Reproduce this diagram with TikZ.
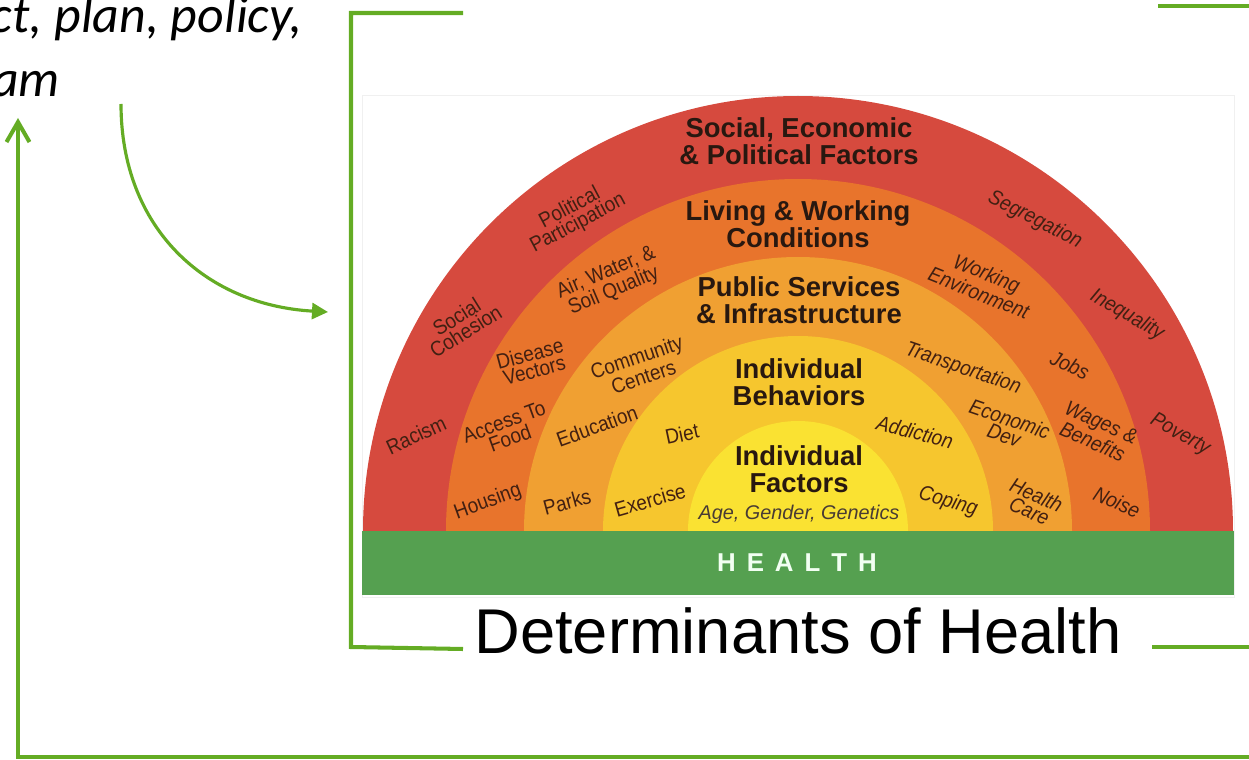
\documentclass[tikz,border=0pt]{standalone}
\usepackage{fontspec}
\setmainfont{Liberation Sans}
\newfontfamily\carlito{Carlito}
\newfontfamily\narrowsans[FakeStretch=0.9]{Liberation Sans}
\usetikzlibrary{arrows.meta}
\definecolor{lgreen}{RGB}{100,172,36}
\definecolor{bandgreen}{RGB}{85,160,80}
\definecolor{ringA}{RGB}{214,74,62}
\definecolor{ringB}{RGB}{232,116,44}
\definecolor{ringC}{RGB}{240,160,50}
\definecolor{ringD}{RGB}{246,198,46}
\definecolor{ringE}{RGB}{250,226,50}
\definecolor{lbrown}{RGB}{66,32,18}
\definecolor{tbrown}{RGB}{40,24,16}
\begin{document}
\begin{tikzpicture}[x=0.02cm,y=-0.02cm,
  gline/.style={draw=lgreen,line width=2.3pt},
  ringtitle/.style={font=\fontsize{15.6}{15.3}\selectfont\bfseries, text=tbrown, align=center, inner sep=0},
  lbl/.style={font=\narrowsans\fontsize{12}{9.8}\selectfont, text=lbrown, align=center, inner sep=0},
  lbli/.style={font=\narrowsans\fontsize{12}{9.8}\selectfont\itshape, text=lbrown, align=center, inner sep=0},
]
\useasboundingbox (0,0) rectangle (1249,760);

% diagram background
\draw[black!6, fill=white] (362,95) rectangle (1234,597);
\begin{scope}
  \clip (300,0) rectangle (1300,531);
  \fill[ringA] (798,531) circle[radius=435];
  \fill[ringB] (798,531) circle[radius=352];
  \fill[ringC] (798,531) circle[radius=274];
  \fill[ringD] (798,531) circle[radius=195];
  \fill[ringE] (798,531) circle[radius=110];
\end{scope}
\fill[bandgreen] (362,531) rectangle (1234,595);
\node[font=\fontsize{14.7}{15}\selectfont\bfseries, text=white!95!green, inner sep=0] (health) at (797,563)
  {H\hspace{0.22cm}E\hspace{0.22cm}A\hspace{0.22cm}L\hspace{0.22cm}T\hspace{0.22cm}H};

% ring titles
\node[ringtitle] (r1) at (799,141) {Social, Economic\\\& Political Factors};
\node[ringtitle] (r2) at (798,224) {Living \& Working\\Conditions};
\node[ringtitle] (r3) at (799,300) {Public Services\\\& Infrastructure};
\node[ringtitle] (r4) at (799,382) {Individual\\Behaviors};
\node[ringtitle] (r5) at (799,469) {Individual\\Factors};
\node[font=\fontsize{11.3}{12}\selectfont\itshape, text=tbrown!85, inner sep=0] (r5b) at (799,514) {Age, Gender, Genetics};

% outer ring labels
\node[lbl, rotate=28] (l1) at (574,216) {Political\\Participation};
\node[lbl, rotate=32] (l2) at (461,324) {Social\\Cohesion};
\node[lbl, rotate=25] (l3) at (416,435) {Racism};
\node[lbli, rotate=-27] (l4) at (1035,220) {Segregation};
\node[lbli, rotate=-30] (l5) at (1127,315) {Inequality};
\node[lbli, rotate=-29] (l6) at (1180,435) {Poverty};

% second ring labels
\node[lbl, rotate=23] (m1) at (610,282) {Air, Water, \&\\Soil Quality};
\node[lbl, rotate=15] (m2) at (532,362) {Disease\\Vectors};
\node[lbl, rotate=20] (m3) at (507,430) {Access To\\Food};
\node[lbl, rotate=20] (m4) at (488,502) {Housing};
\node[lbli, rotate=-22] (m5) at (983,283) {Working\\Environment};
\node[lbli, rotate=-25] (m6) at (1070,365) {Jobs};
\node[lbli, rotate=-24] (m7) at (1097,432) {Wages \&\\Benefits};
\node[lbli, rotate=-24] (m8) at (1117,502) {Noise};

% third ring labels
\node[lbl, rotate=19] (n1) at (640,367) {Community\\Centers};
\node[lbl, rotate=20] (n2) at (597,426) {Education};
\node[lbl, rotate=15] (n3) at (567,502) {Parks};
\node[lbli, rotate=-19] (n4) at (963,369) {Transportation};
\node[lbli, rotate=-19] (n5) at (1007,427) {Economic\\Dev};
\node[lbli, rotate=-24] (n6) at (1033,503) {Health\\Care};

% fourth ring labels
\node[lbl, rotate=12] (o1) at (682,434) {Diet};
\node[lbl, rotate=16] (o2) at (650,500) {Exercise};
\node[lbli, rotate=-15] (o3) at (915,432) {Addiction};
\node[lbli, rotate=-17] (o4) at (948,502) {Coping};

% caption
\node[font=\fontsize{36}{36}\selectfont, anchor=base, inner sep=0] (cap) at (798,653) {Determinants of Health};

% left text
\node[font=\carlito\itshape\fontsize{29.5}{30}\selectfont, anchor=base east, inner sep=0] (t1) at (303,33) {ct, plan, policy,};
\node[font=\carlito\itshape\fontsize{29.5}{30}\selectfont, anchor=base east, inner sep=0] (t2) at (60,97) {am};

% frame bracket
\coordinate (fTL) at (351,13);
\coordinate (fTLe) at (463,13);
\coordinate (fBL) at (351,647);
\coordinate (fBLe) at (463,649);
\coordinate (fTRs) at (1158,6);
\coordinate (fTRe) at (1260,6);
\coordinate (fBRs) at (1152,647);
\coordinate (fBRe) at (1260,647);
\draw[gline] (fTLe) -- (fTL) -- (fBL) -- (fBLe);
\draw[gline] (fTRs) -- (fTRe);
\draw[gline] (fBRs) -- (fBRe);

% curved arrow
\coordinate (cA) at (121,104);
\coordinate (cB) at (328,312);
\draw[draw=lgreen, line width=1.8pt, -{Triangle[length=0.32cm,width=0.32cm]}]
  (cA) .. controls (121,228) and (205,305) .. (cB);

% feedback loop
\coordinate (lR) at (1260,757);
\coordinate (lL) at (18,757);
\coordinate (lT) at (18,118);
\draw[gline, -{Straight Barb[length=0.4cm,width=0.46cm]}] (lR) -- (lL) -- (lT);
\end{tikzpicture}
\end{document}
